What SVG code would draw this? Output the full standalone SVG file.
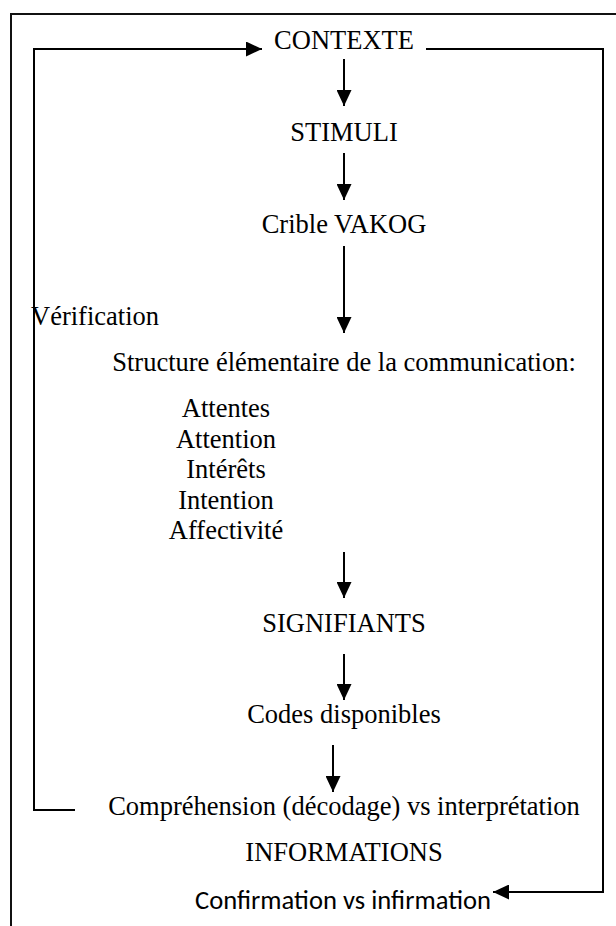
<svg xmlns="http://www.w3.org/2000/svg" width="616" height="926" viewBox="0 0 616 926">
<style>
  .t { font-family: "Liberation Serif", "Times New Roman", serif; font-size: 26.5px; fill: #000; text-anchor: middle; }
  .s { font-family: Carlito, Lato, "Liberation Sans", sans-serif; font-size: 26.5px; fill: #000; text-anchor: middle; }
  .ln { fill: none; stroke: #000; stroke-width: 2; }
  .ar { fill: none; stroke: #000; stroke-width: 2; marker-end: url(#ah); }
</style>
<defs>
  <marker id="ah" markerUnits="userSpaceOnUse" markerWidth="16" markerHeight="15" refX="16" refY="7.5" orient="auto">
    <path d="M0,0 L16,7.5 L0,15 Z" fill="#000"/>
  </marker>
</defs>
<rect width="616" height="926" fill="#fff"/>
<rect id="frame" x="11" y="14" width="630" height="940" fill="none" stroke="#111" stroke-width="2"/>

<g id="connectors">
  <line class="ar" x1="344" y1="59" x2="344" y2="106"/>
  <line class="ar" x1="344" y1="153" x2="344" y2="200"/>
  <line class="ar" x1="344" y1="246" x2="344" y2="333"/>
  <line class="ar" x1="344" y1="552" x2="344" y2="598"/>
  <line class="ar" x1="344" y1="654" x2="344" y2="700"/>
  <line class="ar" x1="333" y1="745" x2="333" y2="792"/>
  <polyline class="ar" points="75,810 34,810 34,49 262,49"/>
  <polyline class="ar" points="426,49 603,49 603,892 493,892"/>
</g>

<g id="contexte"><text class="t" x="344" y="49">CONTEXTE</text></g>
<g id="stimuli"><text class="t" x="344" y="141">STIMULI</text></g>
<g id="crible"><text class="t" x="344" y="233">Crible VAKOG</text></g>
<g id="verification"><text class="t" x="31" y="325" style="text-anchor:start">Vérification</text></g>
<g id="structure"><text class="t" x="344" y="371">Structure élémentaire de la communication:</text></g>
<g id="liste">
  <text class="t" x="226" y="417">Attentes</text>
  <text class="t" x="226" y="448">Attention</text>
  <text class="t" x="226" y="478">Intérêts</text>
  <text class="t" x="226" y="509">Intention</text>
  <text class="t" x="226" y="539">Affectivité</text>
</g>
<g id="signifiants"><text class="t" x="344" y="632">SIGNIFIANTS</text></g>
<g id="codes"><text class="t" x="344" y="723">Codes disponibles</text></g>
<g id="comprehension"><text class="t" x="344" y="815">Compréhension (décodage) vs interprétation</text></g>
<g id="informations"><text class="t" x="344" y="861">INFORMATIONS</text></g>
<g id="confirmation"><text class="s" x="343" y="909" textLength="296" lengthAdjust="spacingAndGlyphs">Confirmation vs infirmation</text></g>
</svg>
